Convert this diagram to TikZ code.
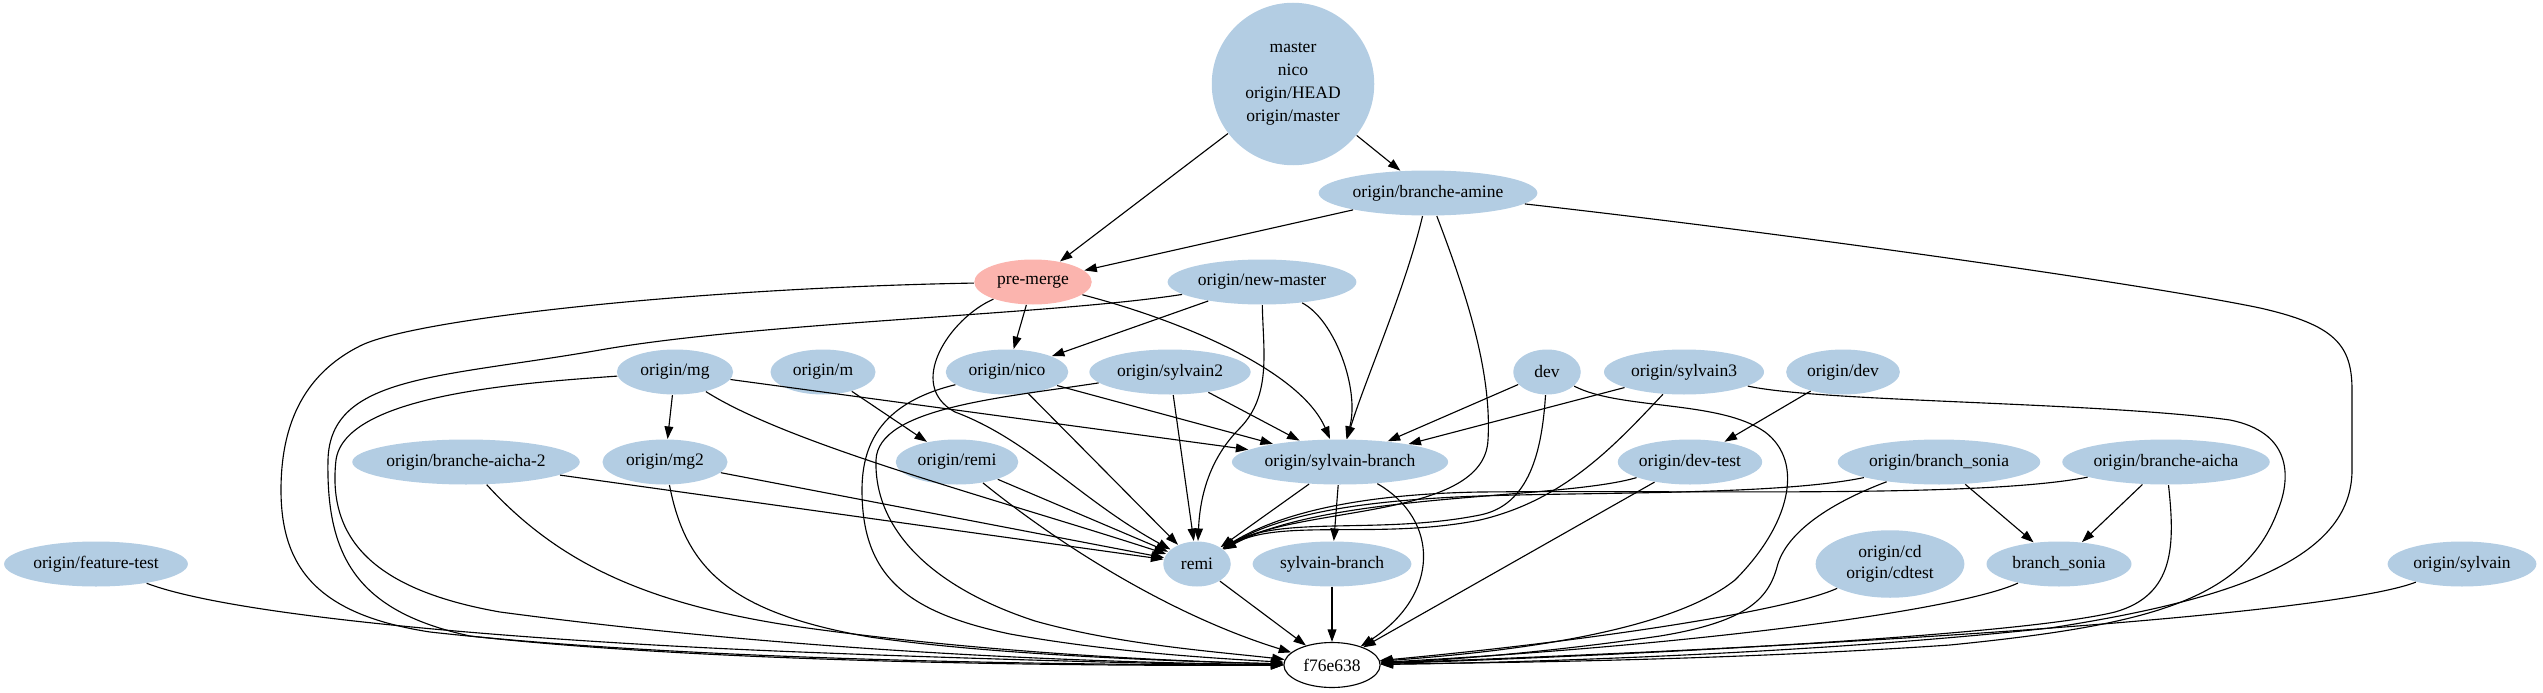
\documentclass[tikz,border=0pt]{standalone}
\usepackage{fontspec}
\setmainfont{Liberation Serif}
\usetikzlibrary{arrows.meta,shapes.geometric}
\definecolor{refblue}{HTML}{B3CDE3}
\definecolor{refpink}{HTML}{FBB4AE}

\begin{document}
\begin{tikzpicture}[x=0.8pt,y=-0.8pt,line width=0.9pt,>={Triangle[length=10pt,width=7pt]},
  ref/.style={ellipse,fill=refblue,inner sep=0pt,minimum width=#1,minimum height=36pt,
    font=\fontsize{14}{17}\selectfont,align=center},
  hot/.style={ref=#1,fill=refpink},
  commit/.style={ellipse,draw,fill=white,inner sep=0pt,minimum width=77pt,minimum height=36pt,
    font=\fontsize{14}{17}\selectfont}]
\useasboundingbox (0,0) rectangle (2543,693);
% 第一、二行
\node[ref=130pt,minimum height=130pt,font=\fontsize{14}{18.5}\selectfont] (mst) at (1293,84)
  {master\\nico\\origin/HEAD\\origin/master};
\node[ref=175pt] (amine) at (1428,193) {origin/branche-amine};
% 第三行
\node[hot=94pt] (pre) at (1033,282) {pre-merge};
\node[ref=151pt] (newm) at (1262,282) {origin/new-master};
% 第四行
\node[ref=93pt] (omg) at (675,372) {origin/mg};
\node[ref=84pt] (om) at (823,372) {origin/m};
\node[ref=98pt] (onico) at (1007,372) {origin/nico};
\node[ref=129pt] (osyl2) at (1170,372) {origin/sylvain2};
\node[ref=54pt] (dev) at (1547,372) {dev};
\node[ref=128pt] (osyl3) at (1684,372) {origin/sylvain3};
\node[ref=91pt] (odev) at (1843,372) {origin/dev};
% 第五行
\node[ref=182pt] (aicha2) at (466,462) {origin/branche-aicha-2};
\node[ref=100pt] (omg2) at (665,462) {origin/mg2};
\node[ref=98pt] (oremi) at (957,462) {origin/remi};
\node[ref=173pt] (osb) at (1340,462) {origin/sylvain-branch};
\node[ref=114pt] (devtest) at (1690,462) {origin/dev-test};
\node[ref=162pt] (obs) at (1939,462) {origin/branch\_sonia};
\node[ref=166pt] (aicha) at (2166,462) {origin/branche-aicha};
% 第六行
\node[ref=147pt] (feat) at (96,564) {origin/feature-test};
\node[ref=54pt] (remi) at (1197,564) {remi};
\node[ref=127pt] (sb) at (1332,564) {sylvain-branch};
\node[ref=119pt,minimum height=54pt] (cd) at (1890,564) {origin/cd\\origin/cdtest};
\node[ref=116pt] (bs) at (2059,564) {branch\_sonia};
\node[ref=119pt] (osyl) at (2462,564) {origin/sylvain};
% 提交
\node[commit] (f7) at (1332,665) {f76e638};
% master
\draw[->] (mst) -- (pre);
\draw[->] (mst) -- (amine);
% origin/branche-amine
\draw[->] (amine) -- (pre);
\draw[->] (amine) .. controls (1405,290) and (1365,380) .. (osb);
\draw[->] (amine) .. controls (1465,290) and (1492,370) .. (1488,440) .. controls (1484,520) and (1300,505) .. (remi);
\draw[->] (amine) .. controls (1800,235) and (2150,285) .. (2260,308) .. controls (2335,325) and (2352,345) .. (2352,390)
  -- (2352,470) .. controls (2352,560) and (2230,600) .. (2050,628) .. controls (1800,655) and (1500,663) .. (f7);
% pre-merge
\draw[->] (pre) -- (onico);
\draw[->] (pre) .. controls (1180,320) and (1300,370) .. (osb);
\draw[->] (pre) .. controls (950,318) and (905,385) .. (955,412) .. controls (1030,440) and (1080,500) .. (remi);
\draw[->] (pre) .. controls (700,288) and (420,318) .. (362,345) .. controls (300,375) and (281,430) .. (281,490)
  .. controls (281,570) and (320,615) .. (430,632) .. controls (700,662) and (1100,665) .. (f7);
% origin/new-master
\draw[->] (newm) -- (onico);
\draw[->] (newm) .. controls (1335,320) and (1360,390) .. (osb);
\draw[->] (newm) .. controls (1263,350) and (1272,395) .. (1240,428) .. controls (1210,458) and (1200,495) .. (remi);
\draw[->] (newm) .. controls (1050,315) and (760,322) .. (600,350) .. controls (440,378) and (330,375) .. (328,460)
  .. controls (326,560) and (360,612) .. (470,636) .. controls (720,664) and (1100,666) .. (f7);
% origin/nico, origin/sylvain2
\draw[->] (onico) -- (osb);
\draw[->] (onico) -- (remi);
\draw[->] (onico) .. controls (885,402) and (862,440) .. (862,490) .. controls (862,575) and (905,612) .. (1010,634)
  .. controls (1110,652) and (1210,658) .. (f7);
\draw[->] (osyl2) -- (osb);
\draw[->] (osyl2) -- (remi);
\draw[->] (osyl2) .. controls (1000,398) and (878,408) .. (876,460) .. controls (874,525) and (925,585) .. (1035,621)
  .. controls (1120,645) and (1220,652) .. (f7);
% origin/mg, origin/m
\draw[->] (omg) -- (omg2);
\draw[->] (omg) -- (osb);
\draw[->] (omg) .. controls (790,445) and (1000,500) .. (remi);
\draw[->] (omg) .. controls (520,383) and (345,395) .. (336,460) .. controls (327,540) and (375,590) .. (500,612)
  .. controls (800,652) and (1100,663) .. (f7);
\draw[->] (om) -- (oremi);
% dev, origin/sylvain3, origin/dev
\draw[->] (dev) -- (osb);
\draw[->] (dev) .. controls (1542,450) and (1530,505) .. (1480,515) .. controls (1380,535) and (1280,515) .. (remi);
\draw[->] (dev) .. controls (1620,410) and (1720,400) .. (1765,432) .. controls (1805,462) and (1790,525) .. (1735,580)
  .. controls (1660,640) and (1460,655) .. (f7);
\draw[->] (osyl3) -- (osb);
\draw[->] (osyl3) .. controls (1615,445) and (1565,500) .. (1480,520) .. controls (1380,540) and (1280,518) .. (remi);
\draw[->] (osyl3) .. controls (1820,402) and (2100,402) .. (2230,420) .. controls (2290,432) and (2292,475) .. (2278,510)
  .. controls (2245,600) and (2150,625) .. (1950,645) .. controls (1700,662) and (1450,663) .. (f7);
\draw[->] (odev) -- (devtest);
% 第五行的边
\draw[->] (aicha2) -- (remi);
\draw[->] (aicha2) .. controls (560,565) and (650,605) .. (800,627) .. controls (1000,655) and (1200,662) .. (f7);
\draw[->] (omg2) -- (remi);
\draw[->] (omg2) .. controls (685,565) and (725,612) .. (870,637) .. controls (1000,656) and (1200,662) .. (f7);
\draw[->] (oremi) -- (remi);
\draw[->] (oremi) .. controls (1060,545) and (1170,615) .. (f7);
\draw[->] (osb) -- (remi);
\draw[->] (osb) -- (sb);
\draw[->] (osb) .. controls (1440,520) and (1440,595) .. (f7);
\draw[->] (devtest) .. controls (1560,500) and (1330,492) .. (remi);
\draw[->] (devtest) -- (f7);
\draw[->] (obs) .. controls (1780,495) and (1600,492) .. (1480,496) .. controls (1370,500) and (1285,512) .. (remi);
\draw[->] (obs) -- (bs);
\draw[->] (obs) .. controls (1825,505) and (1785,535) .. (1777,567) .. controls (1768,600) and (1745,622) .. (1660,636)
  .. controls (1550,652) and (1450,660) .. (f7);
\draw[->] (aicha) .. controls (1980,498) and (1700,490) .. (1480,492) .. controls (1370,494) and (1285,510) .. (remi);
\draw[->] (aicha) -- (bs);
\draw[->] (aicha) .. controls (2175,545) and (2175,595) .. (2115,612) .. controls (2000,640) and (1500,660) .. (f7);
% 第六行的边
\draw[->] (feat) .. controls (230,615) and (500,640) .. (800,652) .. controls (1000,660) and (1200,665) .. (f7);
\draw[->] (remi) -- (f7);
\draw[->] (sb) -- (f7);
\draw[->] (cd) .. controls (1790,610) and (1600,640) .. (f7);
\draw[->] (bs) .. controls (1960,610) and (1700,645) .. (f7);
\draw[->] (osyl) .. controls (2350,608) and (2000,640) .. (f7);
\end{tikzpicture}
\end{document}
